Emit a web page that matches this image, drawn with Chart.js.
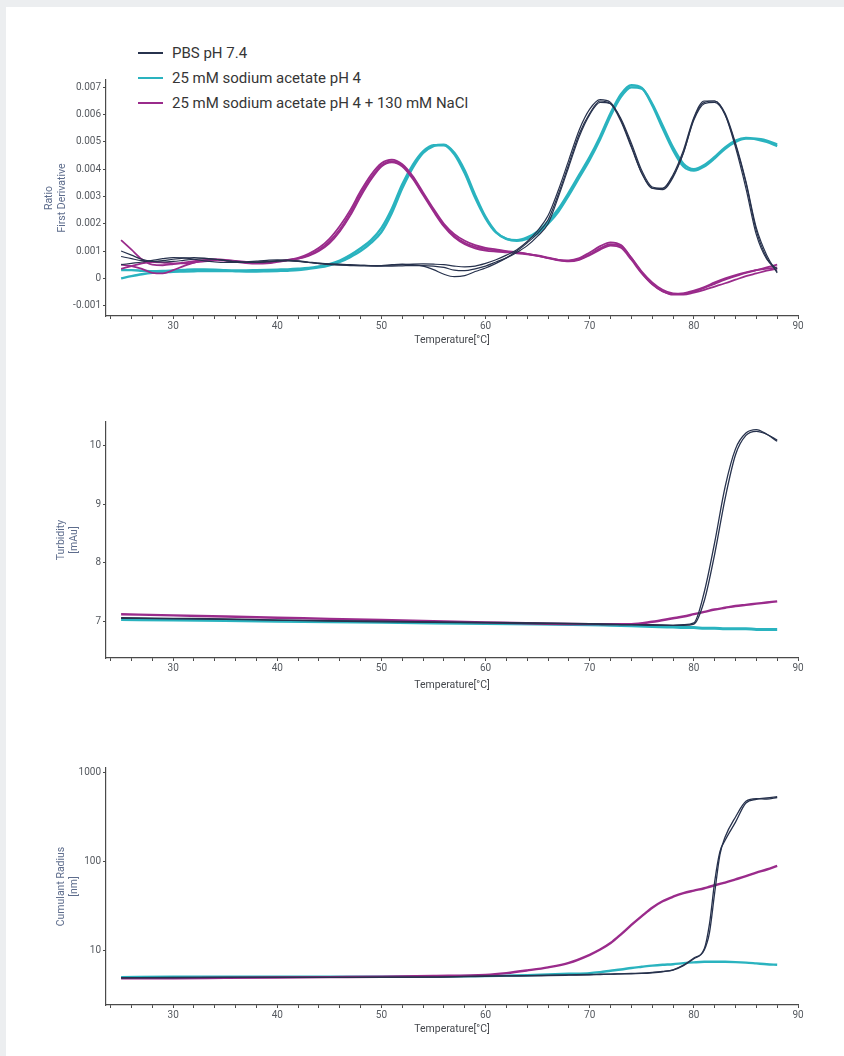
<!DOCTYPE html>
<html>
<head>
<meta charset="utf-8">
<title>Thermal stability in three buffers</title>
<script src="https://cdn.jsdelivr.net/npm/chart.js@4.4.1/dist/chart.umd.min.js"></script>
<style>
  html, body { margin: 0; padding: 0; background: #eceef0; }
  body { width: 844px; height: 1056px; position: relative; overflow: hidden; font-family: Roboto, "Noto Sans", sans-serif; }
  #card { position: absolute; left: 6px; top: 7px; right: 0; bottom: 0; background: #ffffff; }
  canvas { position: absolute; left: 0; }
  .legend-item { position: absolute; left: 138px; height: 18px; line-height: 18px; white-space: nowrap; font-size: 15px; color: #363636; }
  .legend-item span { display: inline-block; width: 25px; height: 2.2px; vertical-align: middle; margin-right: 9px; position: relative; top: -1px; }
</style>
</head>
<body>
<div id="card"></div>
<div id="legend"></div>
<canvas id="deriv" width="844" height="360" style="top:0px"></canvas>
<canvas id="turb" width="844" height="330" style="top:380px"></canvas>
<canvas id="radius" width="844" height="326" style="top:730px"></canvas>
<script>
// ---- series ----
const seriesNames = ['PBS pH 7.4', '25 mM sodium acetate pH 4', '25 mM sodium acetate pH 4 + 130 mM NaCl'];
const seriesColors = ['#27324d', '#2ab3bf', '#9a2b8b'];

// ---- x axis (temperature, °C) ----
const tempTicks = [24, 26, 28, 30, 32, 34, 36, 38, 40, 42, 44, 46, 48, 50, 52, 54, 56, 58, 60,
                   62, 64, 66, 68, 70, 72, 74, 76, 78, 80, 82, 84, 86, 88, 90];
const tempLabelled = [30, 40, 50, 60, 70, 80, 90];

// ---- ratio, first derivative (values in units of 0.001) ----
const derivTemps = [25, 26, 27, 28, 29, 30, 31, 32, 33, 34, 35, 36, 37, 38, 39, 40, 41, 42, 43, 44,
                    45, 46, 47, 48, 49, 50, 51, 52, 53, 54, 55, 56, 57, 58, 59, 60, 61, 62, 63, 64,
                    65, 66, 67, 68, 69, 70, 71, 72, 73, 74, 75, 76, 77, 78, 79, 80, 81, 82, 83, 84,
                    85, 86, 87, 88];
const derivTickValues = [-1, 0, 1, 2, 3, 4, 5, 6, 7];
const derivTickLabels = ['-0.001', '0', '0.001', '0.002', '0.003', '0.004', '0.005', '0.006', '0.007'];

const pbsDerivA = [1.0, 0.85, 0.7, 0.62, 0.6, 0.62, 0.66, 0.7, 0.72, 0.7, 0.66, 0.62, 0.6, 0.6, 0.62,
  0.65, 0.66, 0.64, 0.6, 0.56, 0.53, 0.52, 0.5, 0.48, 0.46, 0.45, 0.45, 0.46, 0.47, 0.47,
  0.45, 0.4, 0.3, 0.28, 0.35, 0.45, 0.6, 0.75, 0.95, 1.2, 1.55, 2.0, 3.0, 4.1, 5.2,
  6.0, 6.45, 6.4, 5.85, 4.95, 3.95, 3.35, 3.3, 3.75, 4.6, 5.8, 6.4, 6.45, 6.0, 4.9,
  3.5, 1.75, 0.75, 0.25];
const pbsDerivB = [0.8, 0.72, 0.65, 0.63, 0.65, 0.7, 0.74, 0.76, 0.74, 0.7, 0.65, 0.6, 0.58, 0.58, 0.6,
  0.63, 0.64, 0.62, 0.58, 0.55, 0.52, 0.5, 0.49, 0.48, 0.47, 0.47, 0.48, 0.5, 0.52, 0.53,
  0.52, 0.5, 0.45, 0.42, 0.45, 0.55, 0.68, 0.85, 1.05, 1.35, 1.75, 2.3, 3.25, 4.35, 5.45,
  6.2, 6.55, 6.45, 5.8, 4.85, 3.85, 3.3, 3.3, 3.8, 4.7, 5.9, 6.5, 6.5, 6.0, 4.8,
  3.3, 1.6, 0.7, 0.35];
const pbsDerivC = [0.5, 0.55, 0.6, 0.66, 0.72, 0.76, 0.75, 0.7, 0.64, 0.6, 0.58, 0.58, 0.6, 0.63, 0.66,
  0.68, 0.67, 0.63, 0.58, 0.54, 0.5, 0.48, 0.47, 0.46, 0.46, 0.47, 0.5, 0.52, 0.5, 0.45,
  0.32, 0.15, 0.06, 0.1, 0.25, 0.38, 0.55, 0.75, 1.0, 1.3, 1.65, 2.15, 3.1, 4.2, 5.3,
  6.05, 6.5, 6.4, 5.75, 4.8, 3.85, 3.3, 3.25, 3.7, 4.6, 5.85, 6.45, 6.5, 6.05, 4.95,
  3.55, 1.85, 0.85, 0.2];

const acetateDerivA = [0.0, 0.08, 0.15, 0.2, 0.22, 0.24, 0.25, 0.26, 0.27, 0.27, 0.27, 0.26, 0.25, 0.25, 0.26,
  0.27, 0.28, 0.3, 0.35, 0.4, 0.48, 0.6, 0.78, 1.0, 1.3, 1.7, 2.4, 3.3, 4.05, 4.6,
  4.85, 4.9, 4.6, 3.95, 3.05, 2.25, 1.7, 1.45, 1.38, 1.45, 1.65, 2.0, 2.45, 3.05, 3.7,
  4.35, 5.1, 5.95, 6.65, 7.0, 6.95, 6.4, 5.6, 4.8, 4.2, 4.0, 4.15, 4.45, 4.8, 5.05,
  5.15, 5.1, 5.0, 4.85];
const acetateDerivB = [0.3, 0.3, 0.28, 0.26, 0.27, 0.29, 0.31, 0.33, 0.33, 0.32, 0.3, 0.29, 0.29, 0.3, 0.31,
  0.32, 0.33, 0.35, 0.38, 0.44, 0.52, 0.65, 0.85, 1.1, 1.4, 1.85, 2.55, 3.45, 4.15, 4.65,
  4.88, 4.88, 4.55, 3.85, 2.95, 2.2, 1.68, 1.45, 1.4, 1.5, 1.72, 2.08, 2.55, 3.15, 3.8,
  4.45, 5.2, 6.05, 6.75, 7.08, 6.98, 6.35, 5.5, 4.7, 4.1, 3.95, 4.1, 4.4, 4.75, 5.0,
  5.12, 5.12, 5.05, 4.9];

const saltDerivA = [1.4, 1.05, 0.7, 0.5, 0.48, 0.52, 0.58, 0.63, 0.67, 0.68, 0.65, 0.6, 0.56, 0.54, 0.55,
  0.6, 0.66, 0.72, 0.85, 1.05, 1.35, 1.8, 2.4, 3.1, 3.7, 4.15, 4.3, 4.15, 3.7, 3.1,
  2.5, 1.95, 1.55, 1.3, 1.15, 1.07, 1.02, 0.98, 0.95, 0.9, 0.84, 0.76, 0.68, 0.64, 0.7,
  0.88, 1.1, 1.25, 1.18, 0.75, 0.25, -0.15, -0.42, -0.55, -0.56, -0.48, -0.35, -0.2, -0.05, 0.08,
  0.2, 0.3, 0.4, 0.5];
const saltDerivB = [0.5, 0.45, 0.35, 0.2, 0.18, 0.3, 0.45, 0.58, 0.66, 0.7, 0.68, 0.63, 0.58, 0.56, 0.57,
  0.62, 0.68, 0.75, 0.9, 1.12, 1.45, 1.92, 2.5, 3.2, 3.8, 4.22, 4.35, 4.18, 3.75, 3.15,
  2.55, 2.0, 1.62, 1.38, 1.22, 1.12, 1.06, 1.0, 0.96, 0.9, 0.82, 0.74, 0.68, 0.66, 0.74,
  0.95, 1.18, 1.32, 1.22, 0.75, 0.2, -0.2, -0.47, -0.6, -0.6, -0.52, -0.42, -0.3, -0.18, -0.05,
  0.08, 0.18, 0.28, 0.35];
const saltDerivC = [0.35, 0.45, 0.55, 0.6, 0.58, 0.55, 0.55, 0.58, 0.62, 0.65, 0.66, 0.64, 0.6, 0.58, 0.58,
  0.62, 0.67, 0.72, 0.82, 1.0, 1.28, 1.72, 2.3, 3.0, 3.62, 4.1, 4.25, 4.1, 3.65, 3.05,
  2.45, 1.9, 1.5, 1.25, 1.1, 1.02, 0.98, 0.95, 0.92, 0.88, 0.82, 0.74, 0.66, 0.62, 0.68,
  0.85, 1.05, 1.2, 1.12, 0.68, 0.18, -0.22, -0.48, -0.58, -0.55, -0.45, -0.32, -0.15, 0.0, 0.12,
  0.22, 0.3, 0.36, 0.4];

// ---- turbidity (mAU) ----
const turbTemps = [25, 30, 35, 40, 45, 50, 55, 60, 65, 70, 72, 74, 76, 78, 79, 80, 81, 82, 83, 84, 85, 86, 87, 88];
const turbTickValues = [7, 8, 9, 10];
const turbTickLabels = ['7', '8', '9', '10'];
const pbsTurbA = [7.05, 7.04, 7.03, 7.02, 7.0, 6.99, 6.98, 6.97, 6.96, 6.95, 6.94, 6.94, 6.93, 6.93, 6.93, 6.95, 7.35, 8.15, 9.1, 9.85, 10.18, 10.25, 10.2, 10.1];
const pbsTurbB = [7.06, 7.05, 7.04, 7.02, 7.01, 7.0, 6.99, 6.98, 6.97, 6.96, 6.95, 6.94, 6.94, 6.93, 6.94, 6.97, 7.5, 8.35, 9.3, 9.95, 10.22, 10.28, 10.2, 10.08];
const acetateTurb = [7.03, 7.02, 7.01, 7.0, 6.99, 6.98, 6.97, 6.96, 6.95, 6.94, 6.93, 6.92, 6.91, 6.9, 6.89, 6.89, 6.88, 6.88, 6.87, 6.87, 6.87, 6.86, 6.86, 6.86];
const saltTurb = [7.12, 7.1, 7.08, 7.06, 7.04, 7.02, 7.0, 6.98, 6.96, 6.95, 6.95, 6.95, 6.99, 7.05, 7.08, 7.12, 7.16, 7.2, 7.23, 7.26, 7.28, 7.3, 7.32, 7.34];

// ---- cumulant radius (nm, log axis) ----
const radiusTemps = [25, 30, 35, 40, 45, 50, 55, 60, 62, 64, 66, 68, 70, 71, 72, 73, 74, 75, 76, 77, 78, 79, 80, 81, 81.5, 82, 82.5, 83, 84, 85, 86, 87, 88];
const radiusTickValues = [10, 100, 1000];
const radiusTickLabels = ['10', '100', '1000'];
const pbsRadiusA = [4.95, 4.95, 5.0, 5.0, 5.0, 5.0, 5.05, 5.2, 5.2, 5.25, 5.3, 5.35, 5.4, 5.45, 5.45, 5.5, 5.55, 5.6, 5.7, 5.85, 6.1, 6.9, 8.3, 10.5, 20, 60, 130, 175, 280, 460, 505, 525, 540];
const pbsRadiusB = [4.95, 5.0, 5.0, 5.0, 5.0, 5.05, 5.05, 5.15, 5.2, 5.2, 5.25, 5.3, 5.35, 5.4, 5.45, 5.5, 5.5, 5.55, 5.65, 5.8, 6.05, 6.8, 8.1, 10.2, 16, 45, 120, 190, 320, 480, 515, 510, 530];
const acetateRadius = [5.05, 5.1, 5.1, 5.1, 5.1, 5.1, 5.15, 5.2, 5.25, 5.3, 5.4, 5.5, 5.6, 5.75, 5.95, 6.15, 6.4, 6.6, 6.8, 6.95, 7.05, 7.25, 7.4, 7.5, 7.5, 7.5, 7.5, 7.5, 7.45, 7.35, 7.2, 7.05, 6.95];
const saltRadius = [4.9, 4.9, 4.95, 5.0, 5.05, 5.1, 5.2, 5.35, 5.6, 6.0, 6.5, 7.3, 9.0, 10.3, 12.2, 15.3, 19.5, 24.5, 30.5, 36, 40.5, 44.5, 47.5, 50.5, 52.5, 54.5, 56.5, 58.5, 63.5, 69, 75.5, 82, 90];

// ---- styling ----
const FONT = 'Roboto, "Noto Sans", sans-serif';
const AXIS_COLOR = '#4a4a4a';
const TICK_COLOR = '#55595f';
const YTITLE_COLOR = '#5d6c8c';

// legend rows
const legendRowTops = [44, 69, 94];
const legendBox = document.getElementById('legend');
seriesNames.forEach((name, i) => {
  const row = document.createElement('div');
  row.className = 'legend-item';
  row.style.top = legendRowTops[i] + 'px';
  const sw = document.createElement('span');
  sw.style.background = seriesColors[i];
  row.appendChild(sw);
  row.appendChild(document.createTextNode(name));
  legendBox.appendChild(row);
});

function pts(xs, ys) { return xs.map((x, i) => ({ x: x, y: ys[i] })); }
function series(idx, width, xs, ys) {
  return {
    label: seriesNames[idx], data: pts(xs, ys),
    borderColor: seriesColors[idx], borderWidth: width,
    pointRadius: 0, fill: false, cubicInterpolationMode: 'monotone'
  };
}

function xScale(titlePadBottom) {
  return {
    type: 'linear', min: 23.55, max: 90,
    afterBuildTicks: s => { s.ticks = tempTicks.map(v => ({ value: v })); },
    afterFit: s => { s.height = 40; },
    grid: { display: true, drawOnChartArea: false, drawTicks: true, tickLength: 3, color: AXIS_COLOR, lineWidth: 1 },
    border: { display: true, color: AXIS_COLOR, width: 1.2 },
    ticks: {
      autoSkip: false, maxRotation: 0, minRotation: 0, padding: 1, color: TICK_COLOR,
      font: { family: FONT, size: 10 },
      callback: v => (tempLabelled.includes(v) ? String(v) : '')
    },
    title: { display: true, text: 'Temperature[°C]', color: '#45484d', font: { family: FONT, size: 10.5 }, padding: { top: 0, bottom: titlePadBottom } }
  };
}

function yScale(extra, tickValues, tickLabels, title, titlePadTop) {
  return Object.assign({
    afterBuildTicks: s => { s.ticks = tickValues.map(v => ({ value: v })); },
    afterFit: s => { s.width = 70; },
    grid: { display: true, drawOnChartArea: false, drawTicks: true, tickLength: 3, color: AXIS_COLOR, lineWidth: 1 },
    border: { display: true, color: AXIS_COLOR, width: 1.2 },
    ticks: {
      autoSkip: false, padding: 2, color: TICK_COLOR, font: { family: FONT, size: 10 },
      callback: (v, i) => tickLabels[i]
    },
    title: { display: true, text: title, color: YTITLE_COLOR, font: { family: FONT, size: 10.5 }, padding: { top: titlePadTop, bottom: 0 } }
  }, extra);
}

function baseOptions(padding, x, y) {
  return {
    responsive: false, animation: false, devicePixelRatio: 1,
    layout: { padding: padding },
    plugins: { legend: { display: false }, tooltip: { enabled: false } },
    scales: { x: x, y: y }
  };
}

// first derivative of the fluorescence ratio
new Chart(document.getElementById('deriv'), {
  type: 'line',
  data: {
    datasets: [
      series(0, 1.2, derivTemps, pbsDerivA),
      series(0, 1.2, derivTemps, pbsDerivB),
      series(0, 1.2, derivTemps, pbsDerivC),
      series(2, 1.8, derivTemps, saltDerivA),
      series(2, 1.8, derivTemps, saltDerivB),
      series(2, 1.8, derivTemps, saltDerivC),
      series(1, 2.4, derivTemps, acetateDerivA),
      series(1, 2.4, derivTemps, acetateDerivB)
    ]
  },
  options: baseOptions({ left: 36, top: 80, right: 46, bottom: 4 },
    xScale(9),
    yScale({ min: -1.38, max: 7.27 }, derivTickValues, derivTickLabels, ['Ratio', 'First Derivative'], 7))
});

// turbidity
new Chart(document.getElementById('turb'), {
  type: 'line',
  data: {
    datasets: [
      series(0, 1.3, turbTemps, pbsTurbA),
      series(0, 1.3, turbTemps, pbsTurbB),
      series(2, 2.4, turbTemps, saltTurb),
      series(1, 3.0, turbTemps, acetateTurb)
    ]
  },
  options: baseOptions({ left: 36, top: 42, right: 46, bottom: 12 },
    xScale(6),
    yScale({ min: 6.37, max: 10.41 }, turbTickValues, turbTickLabels, ['Turbidity', '[mAu]'], 19))
});

// cumulant radius
new Chart(document.getElementById('radius'), {
  type: 'line',
  data: {
    datasets: [
      series(0, 1.3, radiusTemps, pbsRadiusA),
      series(0, 1.3, radiusTemps, pbsRadiusB),
      series(2, 2.4, radiusTemps, saltRadius),
      series(1, 2.4, radiusTemps, acetateRadius)
    ]
  },
  options: baseOptions({ left: 36, top: 38, right: 46, bottom: 11 },
    xScale(9),
    yScale({ type: 'logarithmic', min: 2.45, max: 1138 }, radiusTickValues, radiusTickLabels, ['Cumulant Radius', '[nm]'], 19))
});
</script>
</body>
</html>
